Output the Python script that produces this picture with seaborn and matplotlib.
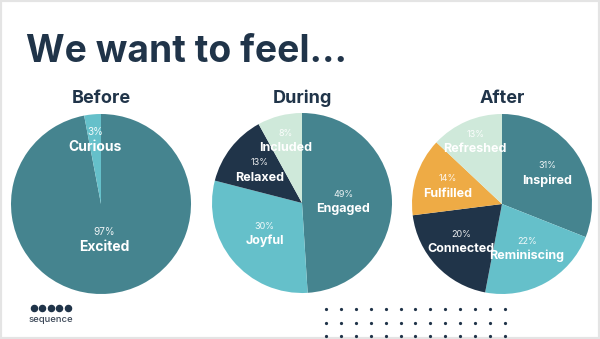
import matplotlib
matplotlib.use("Agg")
import matplotlib.pyplot as plt
import seaborn as sns
import numpy as np
from matplotlib.patches import Rectangle

sns.set_theme(style="white")
plt.rcParams['font.family'] = ['Inter', 'DejaVu Sans']

# ---- data ----
title = "We want to feel..."
chart_titles = ["Before", "During", "After"]

before_labels = ["Excited", "Curious"]
before_values = [97, 3]

during_labels = ["Engaged", "Joyful", "Relaxed", "Included"]
during_values = [49, 30, 13, 8]

after_labels = ["Inspired", "Reminiscing", "Connected", "Fulfilled", "Refreshed"]
after_values = [31, 22, 20, 14, 13]

logo_text = "sequence"

# ---- style ----
TEAL = "#45848f"
LTEAL = "#65c0ca"
NAVY = "#203449"
MINT = "#cfe9da"
ORANGE = "#eeab45"

before_colors = [TEAL, LTEAL]
during_colors = [TEAL, LTEAL, NAVY, MINT]
after_colors = [TEAL, LTEAL, NAVY, ORANGE, MINT]

# radial position of labels (fraction of radius)
before_ldist = [0.40, 0.72]
during_ldist = [0.46, 0.54, 0.59, 0.71]
after_ldist = [0.61, 0.57, 0.62, 0.63, 0.75]
label_sizes = [10, 9, 9]

W, H = 600, 339
centers = [(101, 204), (302, 203), (502, 204)]
R = 90

fig = plt.figure(figsize=(W / 100, H / 100), dpi=100)
fig.patch.set_facecolor("white")

# slide border
fig.add_artist(Rectangle((0, 0), 1, 1, transform=fig.transFigure, fill=False,
                         edgecolor="#e4e4e4", linewidth=3))

fig.text(26 / W, 1 - 62 / H, title, fontsize=26.8, fontweight="bold",
         color=NAVY, va="baseline", ha="left")

datasets = [
    (before_labels, before_values, before_colors, before_ldist),
    (during_labels, during_values, during_colors, during_ldist),
    (after_labels, after_values, after_colors, after_ldist),
]

for (cx, cy), name, fs, (labels, values, colors, ldist) in zip(centers, chart_titles,
                                                              label_sizes, datasets):
    ax = fig.add_axes([(cx - R) / W, (H - cy - R) / H, 2 * R / W, 2 * R / H])
    wedges, _ = ax.pie(values, colors=colors, startangle=90, counterclock=False,
                       radius=1, wedgeprops=dict(linewidth=0))
    ax.set_xlim(-1, 1)
    ax.set_ylim(-1, 1)
    ax.axis("off")
    total = sum(values)
    for w, lab, v, d in zip(wedges, labels, values, ldist):
        mid = np.deg2rad((w.theta1 + w.theta2) / 2)
        x, y = d * np.cos(mid), d * np.sin(mid)
        ax.text(x, y + 0.085, f"{round(100 * v / total)}%", ha="center", va="center",
                fontsize=fs * 0.72, color="white", alpha=0.9)
        ax.text(x, y - 0.08, lab, ha="center", va="center", fontsize=fs,
                fontweight="bold", color="white")
    fig.text(cx / W, 1 - 103 / H, name, fontsize=13, fontweight="bold",
             color=NAVY, ha="center", va="baseline")

# logo
logo_x = [33.5 + i * 8.5 for i in range(5)]
fig.add_artist(plt.Line2D([x / W for x in logo_x], [1 - 308 / H] * 5,
                          transform=fig.transFigure, linestyle="none",
                          marker="o", markersize=4.4, color=NAVY))
fig.text(50.5 / W, 1 - 319 / H, logo_text, fontsize=6.8, fontweight="medium",
         color="#3a4656", ha="center", va="center")

# dot grid
gx = [326 + 14.9 * i for i in range(13)]
gy = [309, 322.5, 336]
for yy in gy:
    fig.add_artist(plt.Line2D([x / W for x in gx], [1 - yy / H] * len(gx),
                              transform=fig.transFigure, linestyle="none",
                              marker="o", markersize=1.3, color=NAVY))

fig.savefig("out.png", dpi=100)
